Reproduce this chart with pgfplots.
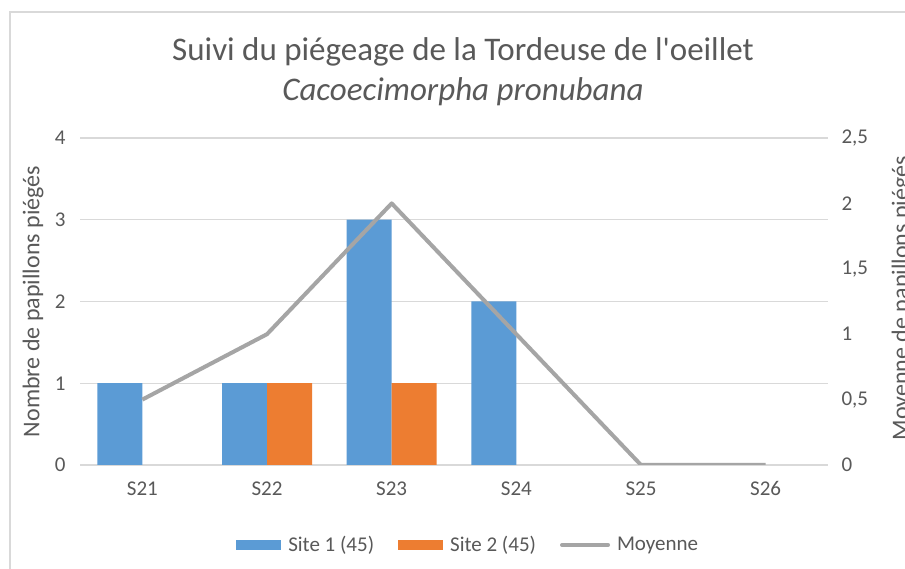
\documentclass[border=0pt]{standalone}
\usepackage{pgfplots}
\pgfplotsset{compat=1.18}
\usepackage{fontspec}
\setmainfont{Carlito}
\definecolor{cblue}{HTML}{5B9BD5}
\definecolor{corange}{HTML}{ED7D31}
\definecolor{cgray}{HTML}{A5A5A5}
\definecolor{tgray}{HTML}{595959}
\definecolor{ggray}{HTML}{D9D9D9}
\begin{document}
\begin{tikzpicture}[x=1pt,y=1pt]
\useasboundingbox (0,0) rectangle (905,569);
\fill[white] (0,0) rectangle (905,569);
\draw[ggray, line width=2pt] (10,-5) -- (10,557) -- (910,557);
\node[tgray, font=\fontsize{33}{38}\selectfont] at (463,517) {Suivi du piégeage de la Tordeuse de l\textquotesingle oeillet};
\node[tgray, font=\fontsize{33}{38}\selectfont\itshape] at (463,477) {Cacoecimorpha pronubana};

\begin{axis}[at={(80pt,104pt)}, anchor=south west, scale only axis,
  width=748pt, height=327pt,
  xmin=-0.5, xmax=5.5, ymin=0, ymax=4,
  ytick={0,1,2,3,4}, xtick={0,...,5},
  xticklabels={S21,S22,S23,S24,S25,S26},
  /pgf/number format/assume math mode=true,
  axis line style={draw=none},
  major tick length=0pt,
  ymajorgrids, grid style={ggray, line width=1.2pt},
  tick label style={text=tgray, font=\fontsize{21}{25}\selectfont},
  yticklabel style={xshift=-11pt},
  xticklabel style={yshift=-13pt},
  every axis y label/.style={at={(axis description cs:-0.0628,0.5)}, rotate=90, anchor=center,
     text=tgray, font=\fontsize{24}{28}\selectfont},
  ylabel={Nombre de papillons piégés},
  legend style={at={(axis description cs:0.519,-0.2446)}, anchor=center, draw=none, fill=none,
     legend columns=3, font=\fontsize{21}{25}\selectfont, text=tgray,
     /tikz/every odd column/.append style={column sep=5pt},
     /tikz/every even column/.append style={column sep=22pt}},
  legend cell align=left,
]
\addplot[ybar, bar width=45pt, bar shift=-22.5pt, fill=cblue, draw=none,
  legend image code/.code={\fill[cblue] (0pt,-5pt) rectangle (45pt,5pt);}]
  coordinates {(0,1) (1,1) (2,3) (3,2)};
\addlegendentry{Site 1 (45)}
\addplot[ybar, bar width=45pt, bar shift=22.5pt, fill=corange, draw=none,
  legend image code/.code={\fill[corange] (0pt,-5pt) rectangle (45pt,5pt);}]
  coordinates {(1,1) (2,1)};
\addlegendentry{Site 2 (45)}
\addlegendimage{legend image code/.code={\draw[cgray, line width=4pt, line cap=round] (2pt,0pt) -- (48pt,0pt);}}
\addlegendentry{Moyenne}
\end{axis}

\begin{axis}[at={(80pt,104pt)}, anchor=south west, scale only axis,
  width=748pt, height=327pt,
  xmin=-0.5, xmax=5.5, ymin=0, ymax=2.5,
  xtick=\empty,
  ytick={0,0.5,1,1.5,2,2.5},
  yticklabels={0,{0,5},1,{1,5},2,{2,5}},
  yticklabel pos=right,
  axis line style={draw=none},
  major tick length=0pt,
  tick label style={text=tgray, font=\fontsize{21}{25}\selectfont},
  yticklabel style={xshift=10pt, anchor=west},
  every axis y label/.style={at={(axis description cs:1.099,0.51)}, rotate=90, anchor=center,
     text=tgray, font=\fontsize{24}{28}\selectfont},
  ylabel={Moyenne de papillons piégés},
]
\addplot[cgray, line width=4pt, line join=round] coordinates {(0,0.5) (1,1) (2,2) (3,1) (4,0) (5,0)};
\end{axis}
\end{tikzpicture}
\end{document}
